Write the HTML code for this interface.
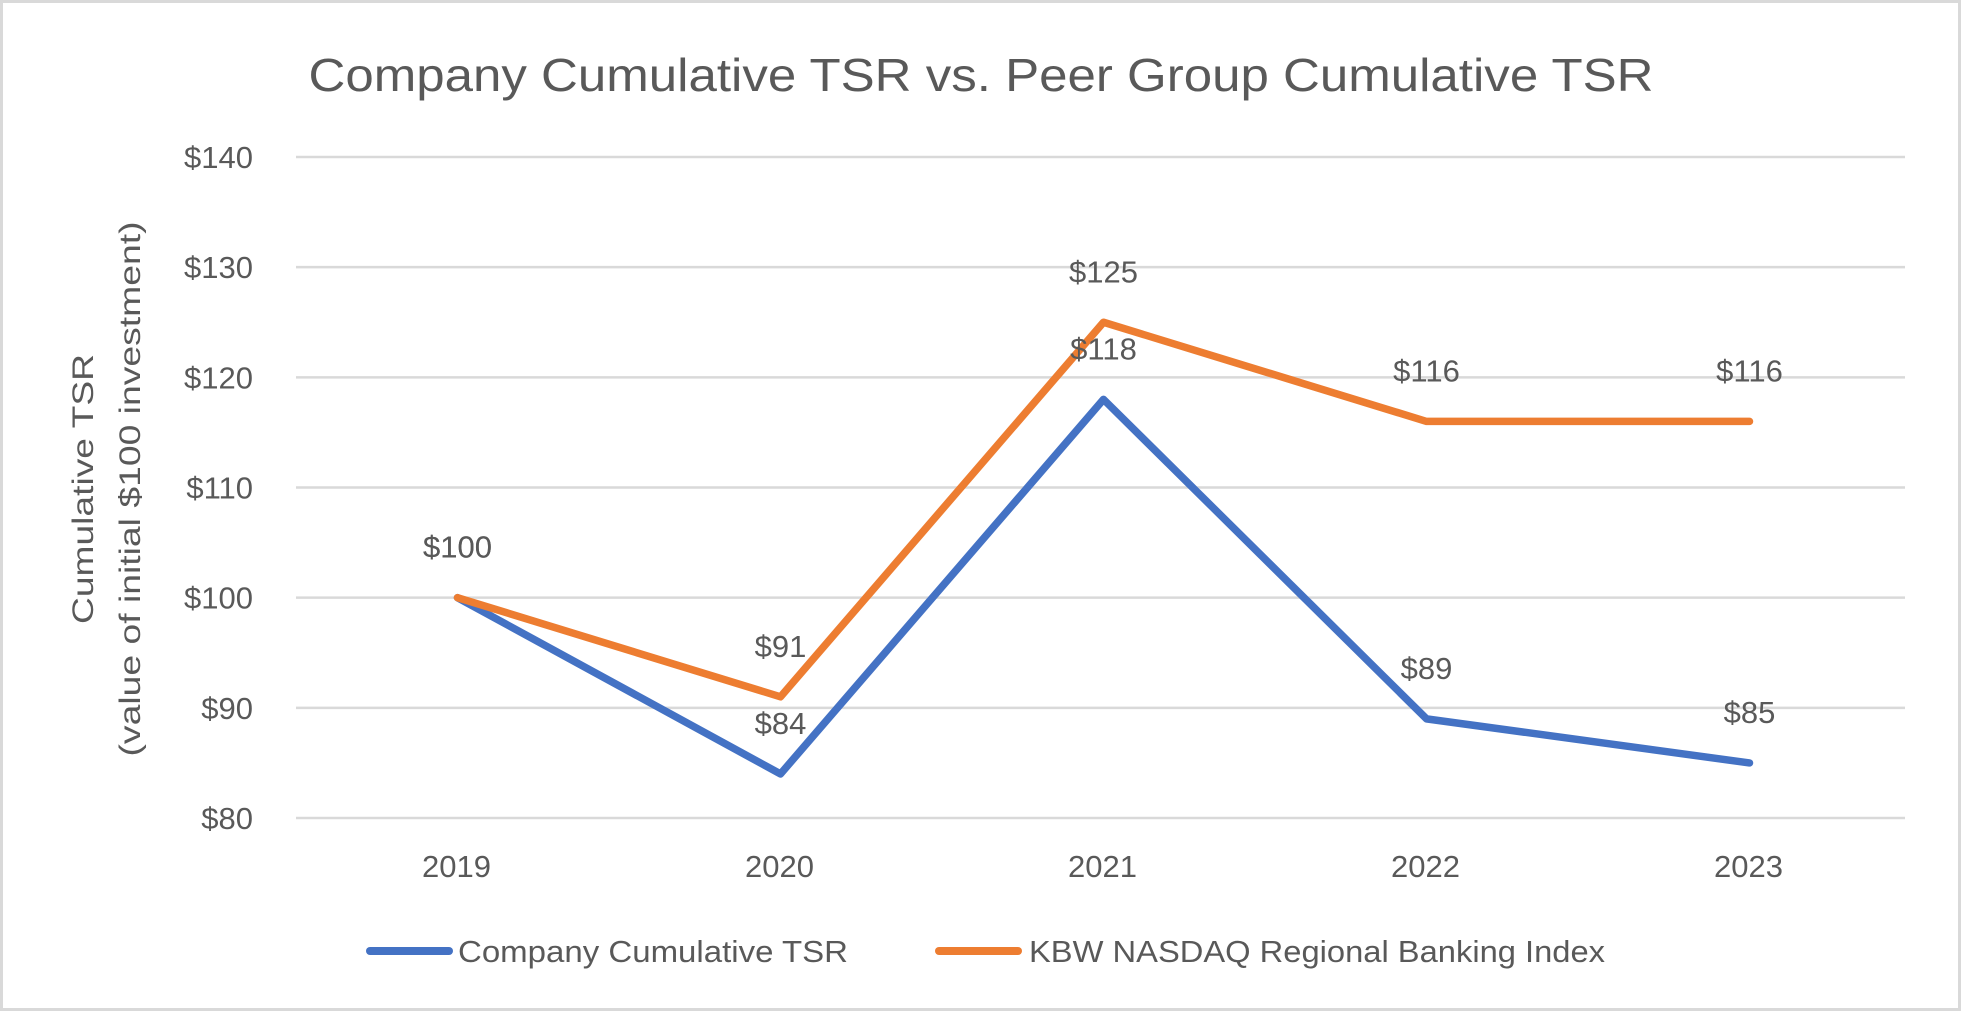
<!DOCTYPE html>
<html><head><meta charset="utf-8"><style>
html,body{margin:0;padding:0;background:#fff;}
svg{display:block;font-family:"Liberation Sans",sans-serif;}
</style></head><body>
<svg width="1961" height="1011" viewBox="0 0 1961 1011" xmlns="http://www.w3.org/2000/svg">
<rect x="1.5" y="1.5" width="1958" height="1008" fill="#fff" stroke="#d9d9d9" stroke-width="3"/>
<text x="981" y="91" text-anchor="middle" font-size="46" fill="#595959" textLength="1345" lengthAdjust="spacingAndGlyphs">Company Cumulative TSR vs. Peer Group Cumulative TSR</text>
<g fill="#595959" font-size="30" text-anchor="middle">
<text transform="translate(93,489) rotate(-90)" textLength="270" lengthAdjust="spacingAndGlyphs">Cumulative TSR</text>
<text transform="translate(140,489) rotate(-90)" textLength="535" lengthAdjust="spacingAndGlyphs">(value of initial $100 investment)</text>
</g>
<g id="grid"></g><g id="yticks"></g><g id="xticks"></g><g id="series"></g><g id="labels"></g>
<g>
<line x1="370" y1="951" x2="449" y2="951" stroke="#4472c4" stroke-width="8" stroke-linecap="round"/>
<text x="458" y="962" font-size="31" fill="#595959" textLength="390" lengthAdjust="spacingAndGlyphs">Company Cumulative TSR</text>
<line x1="939" y1="951" x2="1018" y2="951" stroke="#ed7d31" stroke-width="8" stroke-linecap="round"/>
<text x="1029" y="962" font-size="31" fill="#595959" textLength="576" lengthAdjust="spacingAndGlyphs">KBW NASDAQ Regional Banking Index</text>
</g>
</svg>
<script>
const categories=["2019","2020","2021","2022","2023"];
const companyValues=[100,84,118,89,85];
const kbwValues=[100,91,125,116,116];
const yTicks=[80,90,100,110,120,130,140];
const NS="http://www.w3.org/2000/svg";
const plotL=296,plotR=1911,yMin=80,yMax=140,yTop=157,yBot=818;
function yScale(v){return yBot-(v-yMin)/(yMax-yMin)*(yBot-yTop);}
function xScale(i){const w=(plotR-plotL)/categories.length;return plotL+w*(i+0.5);}
function mk(tag,attrs,parent){const e=document.createElementNS(NS,tag);for(const k in attrs)e.setAttribute(k,attrs[k]);parent.appendChild(e);return e;}
const grid=document.getElementById('grid'),yt=document.getElementById('yticks'),xt=document.getElementById('xticks'),ser=document.getElementById('series'),lab=document.getElementById('labels');
yTicks.forEach(v=>{
 const l=mk('line',{x1:plotL,x2:plotR-6,y1:yScale(v),y2:yScale(v),stroke:'#d9d9d9','stroke-width':2.5},grid);
 
 
 const t=mk('text',{x:253,y:yScale(v)+11,'text-anchor':'end','font-size':31,fill:'#595959'},yt);
 t.textContent='$'+v;
 
 
});
categories.forEach((c,i)=>{
 const t=mk('text',{x:xScale(i)-1,y:877,'text-anchor':'middle','font-size':31,fill:'#595959'},xt);
 t.textContent=c;
 
 
});
function drawSeries(vals,color,name){
 const pts=vals.map((v,i)=>xScale(i)+','+yScale(v)).join(' ');
 const p=mk('polyline',{points:pts,fill:'none',stroke:color,'stroke-width':7.5,'stroke-linejoin':'round','stroke-linecap':'round'},ser);
 
 
 vals.forEach((v,i)=>{
  const t=mk('text',{x:xScale(i),y:yScale(v)-40,'text-anchor':'middle','font-size':31,fill:'#595959'},lab);
  t.textContent='$'+v;
  
  
 });
}
drawSeries(companyValues,'#4472c4','company');
drawSeries(kbwValues,'#ed7d31','kbw');
</script>
</body></html>
